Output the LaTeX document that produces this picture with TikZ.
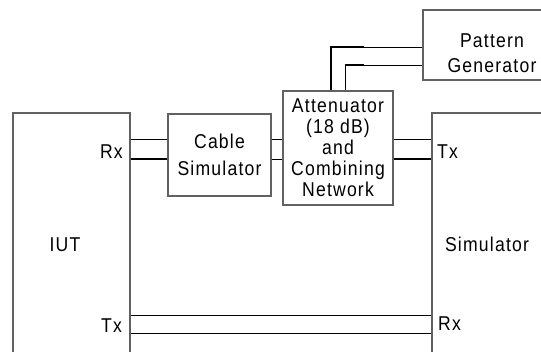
\documentclass[tikz,border=0pt]{standalone}
\usepackage{fontspec}
\setmainfont{Liberation Sans}[FakeStretch=0.88,LetterSpace=6]
\begin{document}
\begin{tikzpicture}[x=1pt,y=-1pt,
  box/.style={draw=black!62,line width=1.1pt,rectangle,inner sep=0pt},
  txt/.style={font=\fontsize{20}{21}\selectfont,inner sep=0pt},
  thinline/.style={draw=black,line width=0.9pt},
  thickline/.style={draw=black,line width=1.8pt}]
\useasboundingbox (0,0) rectangle (541,352);
\clip (0,0) rectangle (541,352);
\fill[white] (0,0) rectangle (541,352);
% boxes
\node[box,minimum width=117pt,minimum height=260pt] (iut) at (71.5,243) {};
\node[box,minimum width=128pt,minimum height=260pt] (sim) at (496,243) {};
\node[box,minimum width=138pt,minimum height=70pt] (pattern) at (492,45) {};
\node[box,minimum width=103pt,minimum height=82pt,align=center,
      font=\fontsize{20}{27}\selectfont] (cable) at (219.5,155) {Cable\\Simulator};
\node[box,minimum width=110pt,minimum height=114pt,align=center,
      font=\fontsize{20}{21}\selectfont] (atten) at (338,148)
      {Attenuator\\(18 dB)\\and\\Combining\\Network};
% labels
\node[txt,align=center,font=\fontsize{20}{25}\selectfont] (pattxt) at (492,53) {Pattern\\Generator};
\node[txt,anchor=base] (iuttxt) at (65,252) {IUT};
\node[txt,anchor=base] (simtxt) at (487,252) {Simulator};
\node[txt,anchor=base east] (iutrx) at (123,159) {Rx};
\node[txt,anchor=base east] (iuttx) at (122,333) {Tx};
\node[txt,anchor=base west] (simtx) at (437,159) {Tx};
\node[txt,anchor=base west] (simrx) at (438,331) {Rx};
% helper coordinates
\coordinate (ya) at (0,139);
\coordinate (yb) at (0,159);
\coordinate (yc) at (0,315);
\coordinate (yd) at (0,333);
\coordinate (ye) at (0,47);
\coordinate (yf) at (0,65);
\coordinate (xa) at (331,0);
\coordinate (xb) at (345,0);
\coordinate (j1) at (364,47);
\coordinate (j2) at (364,65);
% IUT <-> cable simulator
\draw[thinline] (iut.east |- ya) -- (cable.west |- ya);
\draw[thickline] (iut.east |- yb) -- (cable.west |- yb);
% cable simulator <-> attenuator
\draw[thinline] (cable.east |- ya) -- (atten.west |- ya);
\draw[thinline] (cable.east |- yb) -- (atten.west |- yb);
% attenuator <-> simulator
\draw[thinline] (atten.east |- ya) -- (sim.west |- ya);
\draw[thickline] (atten.east |- yb) -- (sim.west |- yb);
% IUT <-> simulator
\draw[thinline] (iut.east |- yc) -- (sim.west |- yc);
\draw[thinline] (iut.east |- yd) -- (sim.west |- yd);
% attenuator <-> pattern generator
\draw[thickline,line join=miter] (atten.north -| xa) -- (xa |- ye) -- (j1);
\draw[thinline] (j1) -- (pattern.west |- ye);
\draw[thinline] (atten.north -| xb) -- (xb |- yf);
\draw[thickline] (xb |- yf) -- (j2);
\draw[thinline] (j2) -- (pattern.west |- yf);
\end{tikzpicture}
\end{document}
